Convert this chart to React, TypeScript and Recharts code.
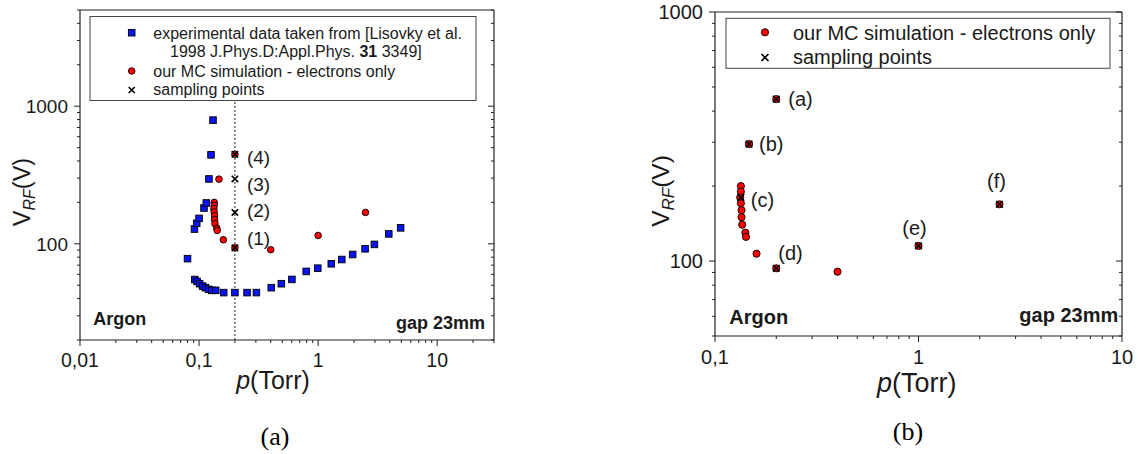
import React from 'react';
import { ScatterChart, Scatter, XAxis, YAxis, ReferenceLine } from 'recharts';

// ---------- data ----------
// experimental data (Lisovsky et al.), panel (a)
const expPressure = [0.08, 0.0915, 0.0955, 0.1, 0.11, 0.115, 0.121, 0.126, 0.131,
  0.092, 0.0963, 0.101, 0.107, 0.113, 0.12, 0.128, 0.138, 0.161, 0.2, 0.253, 0.303,
  0.404, 0.491, 0.602, 0.794, 0.993, 1.29, 1.58, 1.95, 2.48, 2.97, 3.92, 4.93];
const expVoltage = [78, 128, 141, 153, 182, 198, 296, 443, 792,
  55, 53.3, 51.3, 49.3, 48, 46.7, 45.9, 45.9, 44.2, 44.2, 44.2, 44.2,
  48, 51.3, 55.1, 63, 66.5, 71.6, 76.9, 83.6, 92, 99, 118, 130.6];

// MC simulation - electrons only (both panels)
const mcPressure = [0.134, 0.134, 0.133, 0.134, 0.135, 0.135, 0.136, 0.141, 0.142,
  0.16, 0.147, 0.2, 0.2, 0.4, 1.0, 2.5];
const mcVoltage = [200, 190, 180, 170.6, 160, 150, 140, 130, 125,
  107, 295, 447, 93.5, 90.6, 115, 169];

// sampling points, panel (a)
const sampleAPressure = [0.2, 0.2, 0.2, 0.2];
const sampleAVoltage = [447, 296, 169, 93.5];
const sampleALabels = ['(4)', '(3)', '(2)', '(1)'];

// sampling points, panel (b)
const sampleBPressure = [0.2, 0.147, 0.134, 0.2, 1.0, 2.5];
const sampleBVoltage = [447, 295, 180, 93.5, 115, 169];
const sampleBLabels = ['(a)', '(b)', '(c)', '(d)', '(e)', '(f)'];

// axis ticks
const aXTicks = [0.01, 0.02, 0.03, 0.04, 0.05, 0.06, 0.07, 0.08, 0.09,
  0.1, 0.2, 0.3, 0.4, 0.5, 0.6, 0.7, 0.8, 0.9, 1, 2, 3, 4, 5, 6, 7, 8, 9, 10, 20, 30];
const aXMajor = [0.01, 0.1, 1, 10];
const aXLabels = ['0,01', '0,1', '1', '10'];
const aYTicks = [20, 30, 40, 50, 60, 70, 80, 90, 100, 200, 300, 400, 500, 600, 700, 800, 900,
  1000, 2000, 3000, 4000, 5000];
const aYMajor = [100, 1000];
const aYLabels = ['100', '1000'];

const bXTicks = [0.1, 0.2, 0.3, 0.4, 0.5, 0.6, 0.7, 0.8, 0.9, 1, 2, 3, 4, 5, 6, 7, 8, 9, 10];
const bXMajor = [0.1, 1, 10];
const bXLabels = ['0,1', '1', '10'];
const bYTicks = [50, 60, 70, 80, 90, 100, 200, 300, 400, 500, 600, 700, 800, 900, 1000];
const bYMajor = [100, 1000];
const bYLabels = ['100', '1000'];

const zip = (xs: number[], ys: number[], labels?: string[]) =>
  xs.map((x, i) => ({ x, y: ys[i], label: labels ? labels[i] : '' }));

const expData = zip(expPressure, expVoltage);
const mcData = zip(mcPressure, mcVoltage);
const sampleAData = zip(sampleAPressure, sampleAVoltage, sampleALabels);
const sampleBData = zip(sampleBPressure, sampleBVoltage, sampleBLabels);

// ---------- styling ----------
const FONT = '"Liberation Sans", Arial, Helvetica, sans-serif';
const SERIF = '"Liberation Serif", "Times New Roman", serif';
const TXT = '#1a1a1a';

const labelPlacement: Record<string, { dx: number; dy: number; anchor: 'start' | 'middle' }> = {
  '(4)': { dx: 12, dy: 3, anchor: 'start' },
  '(3)': { dx: 12, dy: 5, anchor: 'start' },
  '(2)': { dx: 12, dy: -2, anchor: 'start' },
  '(1)': { dx: 12, dy: -10, anchor: 'start' },
  '(a)': { dx: 12, dy: 0, anchor: 'start' },
  '(b)': { dx: 10, dy: 0, anchor: 'start' },
  '(c)': { dx: 10, dy: 2, anchor: 'start' },
  '(d)': { dx: 2, dy: -16, anchor: 'start' },
  '(e)': { dx: -4, dy: -18, anchor: 'middle' },
  '(f)': { dx: -3, dy: -23, anchor: 'middle' },
};

type Side = 'bottom' | 'top' | 'left' | 'right';
function makeTick(side: Side, edge: number, majors: number[], labels: string[], fontSize: number, labelOffset: number) {
  return (props: any) => {
    const { x, y, payload } = props;
    const v = payload.value;
    const mi = majors.findIndex((m) => Math.abs(m - v) / m < 1e-6);
    const major = mi >= 0;
    const len = major ? 6 : 3;
    const stroke = '#222';
    if (side === 'bottom') {
      return (
        <g>
          <line x1={x} x2={x} y1={edge} y2={edge + len} stroke={stroke} strokeWidth={1} />
          {major && (
            <text x={x} y={edge + labelOffset} textAnchor="middle" fontSize={fontSize} fontFamily={FONT} fill={TXT}>
              {labels[mi]}
            </text>
          )}
        </g>
      );
    }
    if (side === 'top') {
      return <line x1={x} x2={x} y1={edge} y2={edge + len} stroke={stroke} strokeWidth={1} />;
    }
    if (side === 'left') {
      return (
        <g>
          <line x1={edge - len} x2={edge} y1={y} y2={y} stroke={stroke} strokeWidth={1} />
          {major && (
            <text x={edge - labelOffset} y={y + fontSize * 0.36} textAnchor="end" fontSize={fontSize} fontFamily={FONT} fill={TXT}>
              {labels[mi]}
            </text>
          )}
        </g>
      );
    }
    return <line x1={edge - len} x2={edge} y1={y} y2={y} stroke={stroke} strokeWidth={1} />;
  };
}

const BlueSquare = (p: any) => (
  <rect x={p.cx - 3.3} y={p.cy - 3.3} width={6.6} height={6.6} fill="#0a14f0" stroke="#000" strokeWidth={0.9} />
);
const redCircle = (r: number) => (p: any) => (
  <circle cx={p.cx} cy={p.cy} r={r} fill="#ff0000" stroke="#000" strokeWidth={0.9} />
);
const crossWithLabel = (s: number, fontSize: number) => (p: any) => {
  const lab = p.payload && p.payload.label;
  const pl = labelPlacement[lab] || { dx: 12, dy: 0, anchor: 'start' };
  return (
    <g>
      <path
        d={`M${p.cx - s},${p.cy - s}L${p.cx + s},${p.cy + s}M${p.cx - s},${p.cy + s}L${p.cx + s},${p.cy - s}`}
        stroke="#000"
        strokeWidth={1.7}
      />
      {lab && (
        <text
          x={p.cx + pl.dx}
          y={p.cy + pl.dy + fontSize * 0.36}
          textAnchor={pl.anchor}
          fontSize={fontSize}
          fontFamily={FONT}
          fill={TXT}
        >
          {lab}
        </text>
      )}
    </g>
  );
};

// ---------- panel geometry (chart-relative) ----------
const A = { left: 0, width: 560, height: 454, L: 80, R: 494, T: 10, B: 340 };
const B = { left: 560, width: 578, height: 454, L: 155, R: 562, T: 12, B: 336 };

const axisStroke = { stroke: '#222', strokeWidth: 1.2 };

function PanelA() {
  return (
    <div style={{ position: 'absolute', left: A.left, top: 0 }}>
      <ScatterChart
        width={A.width}
        height={A.height}
        margin={{ top: A.T, left: A.L - 40, right: A.width - A.R, bottom: A.height - A.B - 30 }}
      >
        <XAxis
          xAxisId="b" dataKey="x" type="number" scale="log" domain={[0.01, 30]} allowDataOverflow
          ticks={aXTicks} interval={0} height={30} tickLine={false} axisLine={axisStroke}
          tick={makeTick('bottom', A.B, aXMajor, aXLabels, 19.5, 27)}
        />
        <XAxis
          xAxisId="t" orientation="top" mirror type="number" scale="log" domain={[0.01, 30]} allowDataOverflow
          ticks={aXTicks} interval={0} tickLine={false} axisLine={axisStroke}
          tick={makeTick('top', A.T, aXMajor, aXLabels, 20, 0)}
        />
        <YAxis
          yAxisId="l" dataKey="y" type="number" scale="log" domain={[20, 5000]} allowDataOverflow
          ticks={aYTicks} interval={0} width={40} tickLine={false} axisLine={axisStroke}
          tick={makeTick('left', A.L, aYMajor, aYLabels, 19, 12)}
        />
        <YAxis
          yAxisId="r" orientation="right" mirror type="number" scale="log" domain={[20, 5000]} allowDataOverflow
          ticks={aYTicks} interval={0} tickLine={false} axisLine={axisStroke}
          tick={makeTick('right', A.R, aYMajor, aYLabels, 19, 0)}
        />
        <ReferenceLine
          xAxisId="b" yAxisId="l"
          segment={[{ x: 0.2, y: 20 }, { x: 0.2, y: 1190 }]}
          stroke="#222" strokeWidth={1} strokeDasharray="2 2"
        />
        <Scatter xAxisId="b" yAxisId="l" data={expData} shape={BlueSquare} isAnimationActive={false} />
        <Scatter xAxisId="b" yAxisId="l" data={mcData} shape={redCircle(3.3)} isAnimationActive={false} />
        <Scatter xAxisId="b" yAxisId="l" data={sampleAData} shape={crossWithLabel(3.2, 19)} isAnimationActive={false} />
      </ScatterChart>
    </div>
  );
}

function PanelB() {
  return (
    <div style={{ position: 'absolute', left: B.left, top: 0 }}>
      <ScatterChart
        width={B.width}
        height={B.height}
        margin={{ top: B.T, left: B.L - 60, right: B.width - B.R, bottom: B.height - B.B - 30 }}
      >
        <XAxis
          xAxisId="b" dataKey="x" type="number" scale="log" domain={[0.1, 10]} allowDataOverflow
          ticks={bXTicks} interval={0} height={30} tickLine={false} axisLine={axisStroke}
          tick={makeTick('bottom', B.B, bXMajor, bXLabels, 20, 28)}
        />
        <XAxis
          xAxisId="t" orientation="top" mirror type="number" scale="log" domain={[0.1, 10]} allowDataOverflow
          ticks={bXTicks} interval={0} tickLine={false} axisLine={axisStroke}
          tick={makeTick('top', B.T, bXMajor, bXLabels, 20, 0)}
        />
        <YAxis
          yAxisId="l" dataKey="y" type="number" scale="log" domain={[50, 1000]} allowDataOverflow
          ticks={bYTicks} interval={0} width={60} tickLine={false} axisLine={axisStroke}
          tick={makeTick('left', B.L, bYMajor, bYLabels, 20, 12)}
        />
        <YAxis
          yAxisId="r" orientation="right" mirror type="number" scale="log" domain={[50, 1000]} allowDataOverflow
          ticks={bYTicks} interval={0} tickLine={false} axisLine={axisStroke}
          tick={makeTick('right', B.R, bYMajor, bYLabels, 20, 0)}
        />
        <Scatter xAxisId="b" yAxisId="l" data={mcData} shape={redCircle(3.6)} isAnimationActive={false} />
        <Scatter xAxisId="b" yAxisId="l" data={sampleBData} shape={crossWithLabel(3.3, 20)} isAnimationActive={false} />
      </ScatterChart>
    </div>
  );
}

function Overlay() {
  return (
    <svg
      width={1138}
      height={454}
      style={{ position: 'absolute', left: 0, top: 0, pointerEvents: 'none' }}
    >
      {/* ---- legend (a) ---- */}
      <rect x={90} y={16.5} width={386} height={84} fill="#fff" stroke="#444" strokeWidth={1} />
      <rect x={128.4} y={29.4} width={6.6} height={6.6} fill="#0a14f0" stroke="#000" strokeWidth={0.9} />
      <text x={153.3} y={38.5} fontSize={16} fontFamily={FONT} fill={TXT}>experimental data taken from [Lisovky et al.</text>
      <text x={170} y={56.5} fontSize={16} fontFamily={FONT} fill={TXT}>
        1998 J.Phys.D:Appl.Phys. <tspan fontWeight="bold">31</tspan> 3349]
      </text>
      <circle cx={131.7} cy={71} r={3.3} fill="#ff0000" stroke="#000" strokeWidth={0.9} />
      <text x={153.3} y={76.5} fontSize={16} fontFamily={FONT} fill={TXT}>our MC simulation - electrons only</text>
      <path d="M128.7,87L134.7,93M128.7,93L134.7,87" stroke="#000" strokeWidth={1.6} />
      <text x={153.3} y={94.5} fontSize={16} fontFamily={FONT} fill={TXT}>sampling points</text>

      {/* ---- legend (b) ---- */}
      <rect x={726} y={18.3} width={384} height={50} fill="#fff" stroke="#444" strokeWidth={1} />
      <circle cx={765} cy={32.3} r={3.6} fill="#ff0000" stroke="#000" strokeWidth={0.9} />
      <text x={793} y={39.5} fontSize={20} fontFamily={FONT} fill={TXT}>our MC simulation - electrons only</text>
      <path d="M761.5,54L768.5,61M761.5,61L768.5,54" stroke="#000" strokeWidth={1.7} />
      <text x={793} y={63.5} fontSize={20} fontFamily={FONT} fill={TXT}>sampling points</text>

      {/* ---- annotations ---- */}
      <text x={93.3} y={325} fontSize={18} fontWeight="bold" fontFamily={FONT} fill={TXT}>Argon</text>
      <text x={485} y={329} textAnchor="end" fontSize={18} fontWeight="bold" fontFamily={FONT} fill={TXT}>gap 23mm</text>
      <text x={729.3} y={324} fontSize={20} fontWeight="bold" fontFamily={FONT} fill={TXT}>Argon</text>
      <text x={1118.3} y={322} textAnchor="end" fontSize={20} fontWeight="bold" fontFamily={FONT} fill={TXT}>gap 23mm</text>

      {/* ---- axis titles ---- */}
      <text transform="translate(29.5,192) rotate(-90)" textAnchor="middle" fontSize={23.5} fontFamily={FONT} fill={TXT}>
        V<tspan fontSize={16} fontStyle="italic" dy={5}>RF</tspan><tspan dy={-5}>(V)</tspan>
      </text>
      <text x={273} y={389} textAnchor="middle" fontSize={25} fontFamily={FONT} fill={TXT}>
        <tspan fontStyle="italic">p</tspan>(Torr)
      </text>
      <text transform="translate(669,191) rotate(-90)" textAnchor="middle" fontSize={24.5} fontFamily={FONT} fill={TXT}>
        V<tspan fontSize={17} fontStyle="italic" dy={5}>RF</tspan><tspan dy={-5}>(V)</tspan>
      </text>
      <text x={916.7} y={392} textAnchor="middle" fontSize={27} fontFamily={FONT} fill={TXT}>
        <tspan fontStyle="italic">p</tspan>(Torr)
      </text>

      {/* ---- captions ---- */}
      <text x={275} y={445} textAnchor="middle" fontSize={26} fontFamily={SERIF} fill="#000">(a)</text>
      <text x={908} y={440} textAnchor="middle" fontSize={26} fontFamily={SERIF} fill="#000">(b)</text>
    </svg>
  );
}

export default function App() {
  return (
    <div style={{ position: 'absolute', left: 0, top: 0, width: 1138, height: 454, background: '#fff', overflow: 'hidden' }}>
      <PanelA />
      <PanelB />
      <Overlay />
    </div>
  );
}
